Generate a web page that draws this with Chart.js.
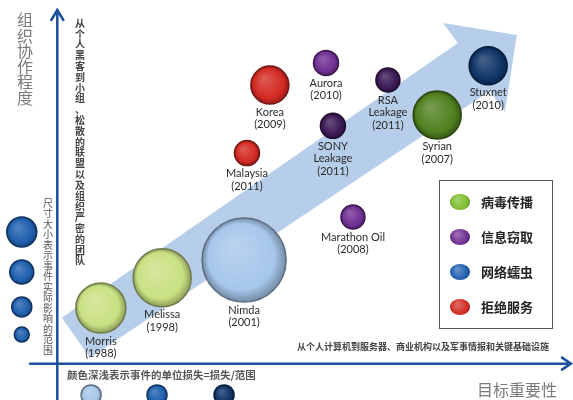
<!DOCTYPE html>
<html>
<head>
<meta charset="utf-8">
<script src="https://cdn.jsdelivr.net/npm/chart.js@4"></script>
<style>
  html, body { margin: 0; padding: 0; background: #fff; }
  #wrap { width: 573px; height: 400px; }
</style>
</head>
<body>
<div id="wrap"><canvas id="chart" width="573" height="400"></canvas></div>
<script>
// 事件：x = 目标重要性, y = 组织协作程度, r = 实际影响范围
const eventNames = ['Morris', 'Melissa', 'Nimda', 'Marathon Oil', 'Malaysia', 'Korea', 'Aurora', 'SONY\nLeakage', 'RSA\nLeakage', 'Syrian', 'Stuxnet'];
const eventYears = [1988, 1998, 2001, 2008, 2011, 2009, 2010, 2011, 2011, 2007, 2010];
const targetImportance = [0.76, 1.83, 3.26, 5.16, 3.31, 3.71, 4.69, 4.81, 5.77, 6.63, 7.52];
const coordination = [1.53, 2.36, 2.85, 4.03, 5.79, 7.66, 8.27, 6.54, 7.80, 6.84, 8.19];
const impactRadius = [25, 29, 42, 12, 12.5, 19, 12.5, 12.5, 12, 24, 19];
const eventTypes = ['virus', 'virus', 'worm', 'theft', 'dos', 'dos', 'theft', 'theft', 'theft', 'virus', 'worm'];
// 单位损失 0 浅 .. 2 深
const lossLevel = [0, 0, 0, 1, 1, 1, 1, 2, 2, 2, 2];

const typeKeys = ['virus', 'theft', 'worm', 'dos'];
const typeLabels = ['病毒传播', '信息窃取', '网络蠕虫', '拒绝服务'];

// 尺寸图例
const sizeLegendR = [15, 12, 10, 7.5];
const sizeLegendY = [3.62, 2.52, 1.56, 0.80];
// 颜色深浅图例
const shadeLegendX = [0.59, 1.74, 2.91];
const shadeLegendLevels = [0, 1, 2];

// 背景箭头（数据单位）
const bandPath = [[0.08, 1.26], [0.57, 0.16], [7.55, 7.50], [7.81, 6.92], [8.02, 9.04], [6.73, 9.37], [6.99, 8.82]];

const palette = {
    virus: ['#c9e082', '#7dbd2e', '#50801f'],
    theft: ['#a47cc6', '#6e2f92', '#3b1956'],
    worm:  ['#a6c7ea', '#1f5fae', '#0f3468'],
    dos:   ['#ee7468', '#d32a22', '#8f1611']
};

function mix(hex, tv, t) {
    const n = parseInt(hex.slice(1), 16);
    const c = [n >> 16, (n >> 8) & 255, n & 255].map(v => Math.round(v + (tv - v) * t));
    return `rgb(${c[0]},${c[1]},${c[2]})`;
}

function bubbleFill(ctx, base) {
    const chart = ctx.chart;
    const raw = ctx.raw;
    if (!raw || !chart.chartArea) return base;
    const cx = chart.scales.x.getPixelForValue(raw.x);
    const cy = chart.scales.y.getPixelForValue(raw.y);
    const r = raw.r;
    const g = chart.ctx.createRadialGradient(cx - r * 0.3, cy - r * 0.35, r * 0.05, cx, cy, r);
    g.addColorStop(0, mix(base, 255, 0.22));
    g.addColorStop(0.78, base);
    g.addColorStop(1, mix(base, 0, 0.3));
    return g;
}

function vText(ctx, str, x, y0, step) {
    [...str].forEach((c, i) => ctx.fillText(c, x, y0 + i * step));
}

const decor = {
    id: 'decor',
    beforeDatasetsDraw(chart) {
        const { ctx, scales: { x, y } } = chart;
        ctx.save();
        ctx.beginPath();
        bandPath.forEach(([bx, by], i) => {
            const px = x.getPixelForValue(bx), py = y.getPixelForValue(by);
            if (i) ctx.lineTo(px, py); else ctx.moveTo(px, py);
        });
        ctx.closePath();
        ctx.fillStyle = '#b6cee9';
        ctx.fill();
        ctx.restore();
    },
    afterDatasetsDraw(chart) {
        const { ctx, scales: { x, y } } = chart;
        const ox = x.getPixelForValue(0), oy = y.getPixelForValue(0);
        ctx.save();

        // 坐标轴
        ctx.strokeStyle = '#1b509e';
        ctx.lineWidth = 2.5;
        ctx.lineCap = 'round';
        ctx.beginPath();
        ctx.moveTo(ox, 400); ctx.lineTo(ox, 11);
        ctx.moveTo(30, oy); ctx.lineTo(570, oy);
        ctx.moveTo(ox - 6, 20); ctx.lineTo(ox, 10); ctx.lineTo(ox + 6, 20);
        ctx.moveTo(562, oy - 6); ctx.lineTo(571, oy); ctx.lineTo(562, oy + 6);
        ctx.stroke();

        // 气泡标签
        const meta = chart.getDatasetMeta(0);
        ctx.font = '11px Lato';
        ctx.fillStyle = '#2b2b2b';
        ctx.textAlign = 'center';
        ctx.textBaseline = 'middle';
        meta.data.forEach((el, i) => {
            const lines = eventNames[i].split('\n').concat('(' + eventYears[i] + ')');
            const r = el.options.radius;
            lines.forEach((t, k) => ctx.fillText(t, el.x, el.y + r + 8 + k * 12.5));
        });

        // 轴标题
        ctx.fillStyle = '#7a7a7a';
        ctx.font = '16px "Noto Sans CJK SC"';
        vText(ctx, '组织协作程度', 25, 20, 15.6);
        ctx.textAlign = 'left';
        ctx.fillText('目标重要性', 477, 390);

        // 说明文字
        ctx.textAlign = 'center';
        ctx.fillStyle = '#444';
        ctx.font = 'bold 10px "Noto Sans CJK SC"';
        vText(ctx, '从个人黑客到小组、松散的联盟以及组织严密的团队', 80, 23, 10.8);
        ctx.fillStyle = '#555';
        ctx.font = '10px "Noto Sans CJK SC"';
        vText(ctx, '尺寸大小表示事件实际影响的范围', 48, 203, 10.5);
        ctx.textAlign = 'left';
        ctx.font = 'bold 10.5px "Noto Sans CJK SC"';
        ctx.fillText('颜色深浅表示事件的单位损失=损失/范围', 67, 375);
        ctx.fillStyle = '#444';
        ctx.font = 'bold 9px "Noto Sans CJK SC"';
        ctx.fillText('从个人计算机到服务器、商业机构以及军事情报和关键基础设施', 297, 347);

        // 类型图例
        ctx.strokeStyle = '#555';
        ctx.lineWidth = 1;
        ctx.strokeRect(439.5, 180.5, 113, 148);
        typeKeys.forEach((k, i) => {
            const cy = 202 + i * 35, cx = 460;
            const base = palette[k][1];
            const g = ctx.createRadialGradient(cx - 3, cy - 3, 1, cx, cy, 10);
            g.addColorStop(0, mix(base, 255, 0.3));
            g.addColorStop(0.8, base);
            g.addColorStop(1, mix(base, 0, 0.3));
            ctx.beginPath();
            ctx.ellipse(cx, cy, 10, 8, 0, 0, Math.PI * 2);
            ctx.fillStyle = g;
            ctx.fill();
            ctx.fillStyle = '#222';
            ctx.font = 'bold 13px "Noto Sans CJK SC"';
            ctx.fillText(typeLabels[i], 481, cy);
        });
        ctx.restore();
    }
};

const eventData = eventNames.map((n, i) => ({ x: targetImportance[i], y: coordination[i], r: impactRadius[i] }));
const sizeData = sizeLegendR.map((r, i) => ({ x: -0.62, y: sizeLegendY[i], r: r }));
const shadeData = shadeLegendX.map(v => ({ x: v, y: -0.86, r: 10 }));

new Chart(document.getElementById('chart'), {
    type: 'bubble',
    data: {
        datasets: [
            {
                label: 'events',
                data: eventData,
                clip: false,
                borderWidth: 1.5,
                backgroundColor: c => bubbleFill(c, palette[eventTypes[c.dataIndex]][lossLevel[c.dataIndex]]),
                borderColor: c => mix(palette[eventTypes[c.dataIndex]][lossLevel[c.dataIndex]], 0, 0.45)
            },
            {
                label: 'size',
                data: sizeData,
                clip: false,
                borderWidth: 1.5,
                backgroundColor: c => bubbleFill(c, palette.worm[1]),
                borderColor: mix(palette.worm[1], 0, 0.45)
            },
            {
                label: 'shade',
                data: shadeData,
                clip: false,
                borderWidth: 1.5,
                backgroundColor: c => bubbleFill(c, palette.worm[shadeLegendLevels[c.dataIndex]]),
                borderColor: c => mix(palette.worm[shadeLegendLevels[c.dataIndex]], 0, 0.45)
            }
        ]
    },
    options: {
        responsive: false,
        animation: false,
        events: [],
        layout: { padding: 0, autoPadding: false },
        scales: {
            x: { type: 'linear', min: -1, max: 9, display: false },
            y: { type: 'linear', min: -1, max: 10, display: false }
        },
        plugins: {
            legend: { display: false },
            tooltip: { enabled: false }
        }
    },
    plugins: [decor]
});
</script>
</body>
</html>
